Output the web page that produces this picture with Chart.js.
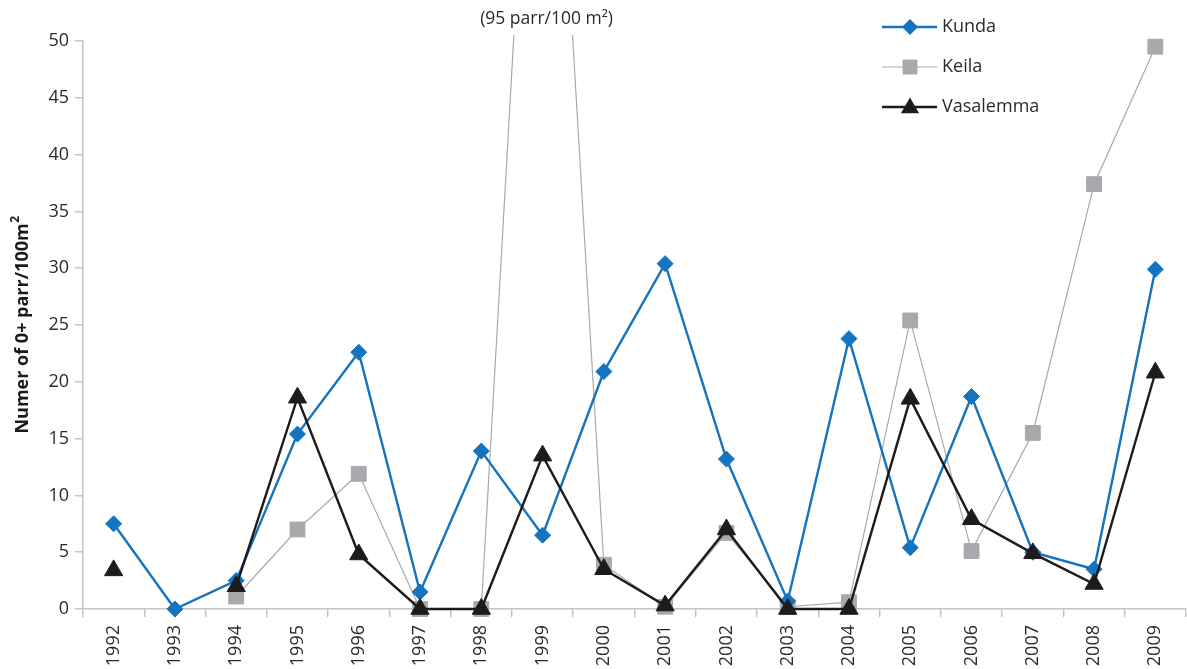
<!DOCTYPE html>
<html>
<head>
<meta charset="utf-8">
<script src="https://cdn.jsdelivr.net/npm/chart.js@4.4.1/dist/chart.umd.min.js"></script>
<style>
  html, body { margin: 0; padding: 0; background: #fff; overflow: hidden; }
  #wrap { width: 1187px; height: 669px; position: relative; }
</style>
</head>
<body>
<div id="wrap"><canvas id="c" width="1187" height="669"></canvas></div>
<script>
// Survey years
const years = ['1992','1993','1994','1995','1996','1997','1998','1999','2000',
               '2001','2002','2003','2004','2005','2006','2007','2008','2009'];

// Density of 0+ parr per 100 m² by river
const kunda = [7.5, 0, 2.5, 15.4, 22.6, 1.5, 13.9, 6.5, 20.9, 30.4, 13.2, 0.7, 23.8, 5.4, 18.7, 5.0, 3.5, 29.9];
const keila = [null, null, 1.1, 7.0, 11.9, 0, 0, 95, 3.9, 0.2, 6.7, 0.2, 0.6, 25.4, 5.1, 15.5, 37.4, 49.5];
const vasalemma = [3.4, null, 2.0, 18.6, 4.8, 0, 0, 13.5, 3.5, 0.3, 7.0, 0, 0, 18.5, 7.9, 4.9, 2.2, 20.8];

const yTicks = [0, 5, 10, 15, 20, 25, 30, 35, 40, 45, 50];
const offScaleNote = '(95 parr/100 m\u00B2)';

const FONT = '"Open Sans", "Noto Sans", sans-serif';
const BLUE = '#1474bf';
const GREY = '#a7a9ac';
const BLACK = '#1f1a1b';

const clipBox = { left: 12, top: 6, right: 12, bottom: 12 };

const series = [
  { label: 'Kunda', data: kunda, color: BLUE, width: 2.4, style: 'rectRot', radius: 8, order: 1 },
  { label: 'Keila', data: keila, color: GREY, width: 1.2, style: 'rect', radius: 10.5, order: 2 },
  { label: 'Vasalemma', data: vasalemma, color: BLACK, width: 2.4, style: 'triangle', radius: 10.5, order: 0 }
];

function drawMarker(ctx, style, x, y, r, color) {
  ctx.save();
  ctx.fillStyle = color;
  ctx.beginPath();
  if (style === 'rectRot') {
    ctx.moveTo(x, y - r); ctx.lineTo(x + r, y); ctx.lineTo(x, y + r); ctx.lineTo(x - r, y);
  } else if (style === 'rect') {
    const h = r * Math.SQRT1_2;
    ctx.rect(x - h, y - h, 2 * h, 2 * h);
  } else {
    const w = r * Math.sqrt(3) / 2;
    ctx.moveTo(x, y - r); ctx.lineTo(x + w, y + r / 2); ctx.lineTo(x - w, y + r / 2);
  }
  ctx.closePath();
  ctx.fill();
  ctx.restore();
}

// Legend block, axis title and the note for the off-scale Keila value
const extrasPlugin = {
  id: 'extras',
  afterDraw(chart) {
    const ctx = chart.ctx;
    const rows = [27, 67, 107];
    series.forEach((s, i) => {
      const y = rows[i];
      ctx.save();
      ctx.strokeStyle = s.color;
      ctx.lineWidth = s.width;
      ctx.beginPath();
      ctx.moveTo(882, y); ctx.lineTo(937, y);
      ctx.stroke();
      ctx.restore();
      drawMarker(ctx, s.style, 910, s.style === 'triangle' ? y + 1 : y, s.radius, s.color);
      ctx.save();
      ctx.fillStyle = '#2b2b2b';
      ctx.font = '18px ' + FONT;
      ctx.textBaseline = 'middle';
      ctx.textAlign = 'left';
      ctx.fillText(s.label, 942, y);
      ctx.restore();
    });

    const xs = chart.scales.x;
    const area = chart.chartArea;
    ctx.save();
    ctx.fillStyle = '#2b2b2b';
    ctx.font = '17.5px ' + FONT;
    ctx.textAlign = 'center';
    ctx.textBaseline = 'middle';
    ctx.fillText(offScaleNote, xs.getPixelForValue(7) + 4, 19);
    ctx.restore();

    // y-axis title with a raised exponent
    ctx.save();
    ctx.translate(23, (area.top + area.bottom) / 2);
    ctx.rotate(-Math.PI / 2);
    ctx.fillStyle = '#1a1a1a';
    const main = 'Numer of 0+ parr/100m';
    const sup = '2';
    ctx.font = 'bold 18px ' + FONT;
    const wMain = ctx.measureText(main).width;
    ctx.font = 'bold 12px ' + FONT;
    const wSup = ctx.measureText(sup).width;
    const start = -(wMain + wSup) / 2;
    ctx.textBaseline = 'middle';
    ctx.textAlign = 'left';
    ctx.font = 'bold 18px ' + FONT;
    ctx.fillText(main, start, 0);
    ctx.font = 'bold 12px ' + FONT;
    ctx.fillText(sup, start + wMain + 0.5, -7);
    ctx.restore();
  }
};

new Chart(document.getElementById('c'), {
  type: 'line',
  data: {
    labels: years,
    datasets: series.map(s => ({
      label: s.label,
      data: s.data,
      borderColor: s.color,
      backgroundColor: s.color,
      borderWidth: s.width,
      pointStyle: s.style,
      pointRadius: s.radius,
      pointHoverRadius: s.radius,
      pointBackgroundColor: s.color,
      pointBorderColor: s.color,
      pointBorderWidth: 1,
      tension: 0,
      spanGaps: false,
      fill: false,
      order: s.order,
      clip: clipBox
    }))
  },
  options: {
    responsive: false,
    animation: false,
    events: [],
    layout: { autoPadding: false, padding: { top: 41, right: 1, left: 0, bottom: 0 } },
    plugins: {
      legend: { display: false },
      tooltip: { enabled: false }
    },
    scales: {
      x: {
        type: 'category',
        offset: true,
        grid: {
          offset: true,
          drawOnChartArea: false,
          drawTicks: true,
          tickLength: 8,
          color: '#c4c4c4',
          lineWidth: 1.5
        },
        border: { display: true, color: '#c4c4c4', width: 1.5 },
        ticks: {
          color: '#2b2b2b',
          font: { family: FONT, size: 18 },
          minRotation: 90,
          maxRotation: 90,
          autoSkip: false,
          padding: 8
        },
        afterFit(scale) {
          scale.height = 60;
          scale.paddingLeft = 0;
          scale.paddingRight = 0;
        }
      },
      y: {
        min: 0,
        max: 50,
        afterBuildTicks(scale) { scale.ticks = yTicks.map(v => ({ value: v })); },
        grid: {
          drawOnChartArea: false,
          drawTicks: true,
          tickLength: 8,
          color: '#c4c4c4',
          lineWidth: 1.5
        },
        border: { display: true, color: '#c4c4c4', width: 1.5 },
        ticks: {
          color: '#2b2b2b',
          font: { family: FONT, size: 18 },
          padding: 6
        },
        title: { display: false },
        afterFit(scale) {
          scale.width = 83;
          scale.paddingTop = 0;
          scale.paddingBottom = 0;
        }
      }
    }
  },
  plugins: [extrasPlugin]
});
</script>
</body>
</html>
